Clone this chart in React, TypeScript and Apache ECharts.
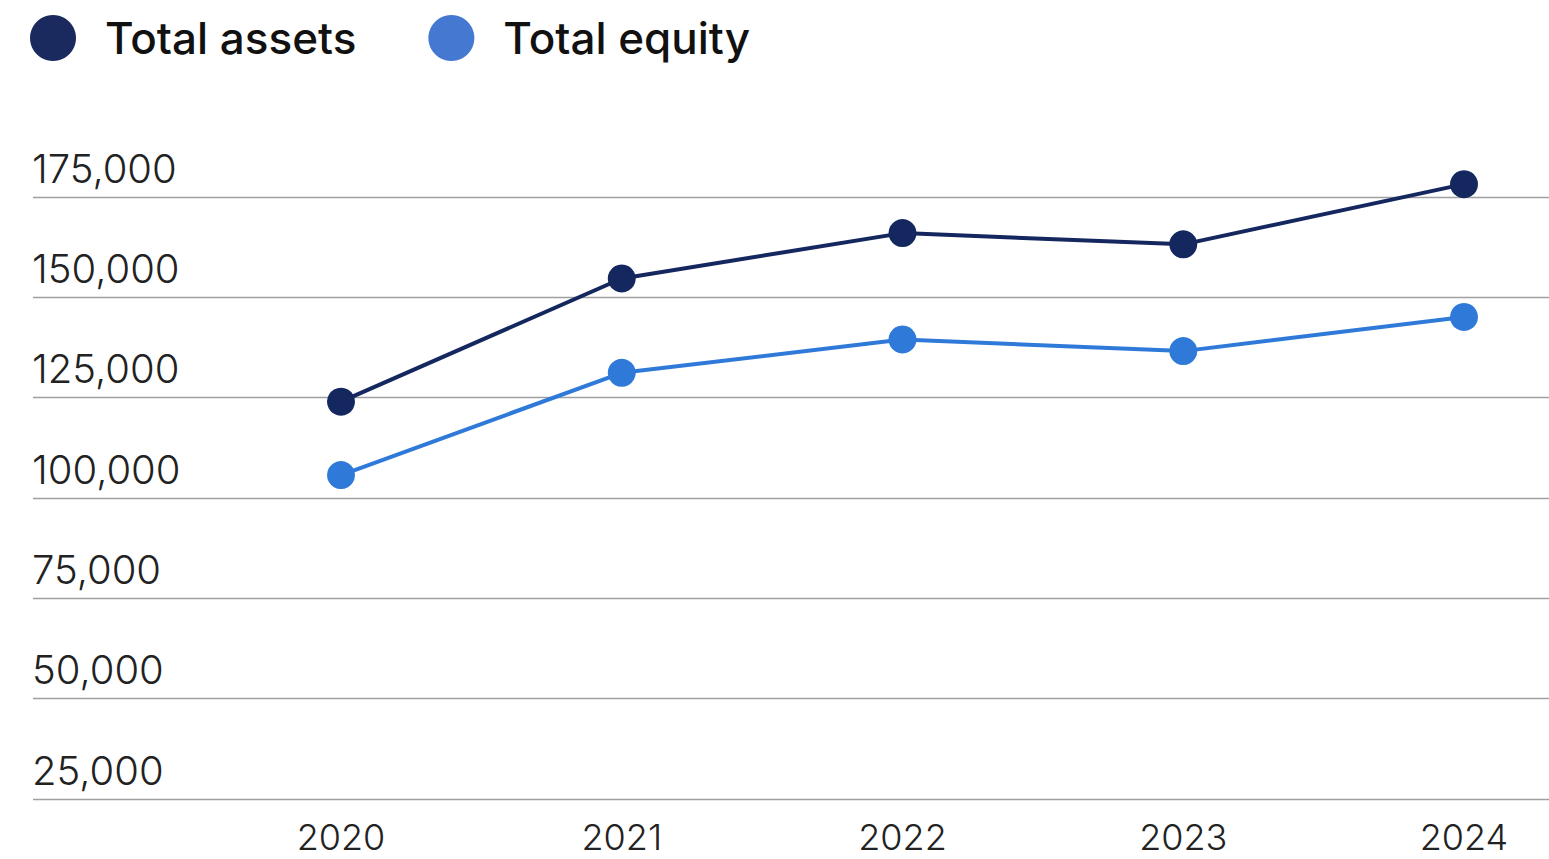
import React, { useEffect, useRef } from "react";
import * as echarts from "echarts";

const years = ["2020", "2021", "2022", "2023", "2024"];
const totalAssets = [124000, 154700, 166000, 163200, 178200];
const totalEquity = [105700, 131200, 139500, 136600, 145100];
const yTicks = { min: 25000, max: 175000, step: 25000 };

const ASSETS_LINE = "#14275f";
const ASSETS_LEGEND = "#1a2a5e";
const EQUITY_LINE = "#2f7ad8";
const EQUITY_LEGEND = "#4478d1";
const FONT = "Inter, 'Noto Sans', sans-serif";

export default function App() {
  const ref = useRef<HTMLDivElement>(null);
  useEffect(() => {
    if (!ref.current) return;
    const chart = echarts.init(ref.current, undefined, { renderer: "svg" });
    const top = 197;
    const bottom = 60;
    chart.setOption({
      animation: false,
      legend: {
        left: 30,
        top: 15,
        padding: 0,
        icon: "circle",
        itemWidth: 46,
        itemHeight: 46,
        itemGap: 72,
        selectedMode: false,
        textStyle: {
          fontFamily: FONT,
          fontSize: 44,
          lineHeight: 46,
          fontWeight: 500,
          color: "#111",
          padding: [0, 0, 0, 24],
        },
        data: [
          { name: "Total assets", itemStyle: { color: ASSETS_LEGEND } },
          { name: "Total equity", itemStyle: { color: EQUITY_LEGEND } },
        ],
      },
      grid: [
        { left: 33, right: 0, top, bottom },
        { left: 341, right: 85, top, bottom },
      ],
      xAxis: [
        { type: "value", gridIndex: 0, show: false, min: 0, max: 1 },
        {
          type: "category",
          gridIndex: 1,
          data: years,
          boundaryGap: false,
          axisLine: { show: false },
          axisTick: { show: false },
          axisLabel: {
            fontFamily: FONT,
            fontSize: 36,
            lineHeight: 34,
            fontWeight: 300,
            color: "#222",
            margin: 21,
          },
        },
      ],
      yAxis: [
        {
          type: "value",
          gridIndex: 0,
          min: yTicks.min,
          max: yTicks.max,
          interval: yTicks.step,
          axisLine: { show: false },
          axisTick: { show: false },
          splitLine: { show: true, lineStyle: { color: "#a0a0a0", width: 1.3 } },
          axisLabel: {
            inside: true,
            margin: -1,
            verticalAlign: "bottom",
            padding: [0, 0, 9, 0],
            fontFamily: FONT,
            fontSize: 40,
            lineHeight: 40,
            fontWeight: 300,
            color: "#222",
            formatter: (v: number) => v.toLocaleString("en-US"),
          },
        },
        {
          type: "value",
          gridIndex: 1,
          min: yTicks.min,
          max: yTicks.max,
          interval: yTicks.step,
          show: false,
          splitLine: { show: false },
        },
      ],
      series: [
        {
          name: "Total assets",
          type: "line",
          xAxisIndex: 1,
          yAxisIndex: 1,
          data: totalAssets,
          clip: false,
          symbol: "circle",
          symbolSize: 28,
          color: ASSETS_LINE,
          lineStyle: { width: 4, color: ASSETS_LINE },
          itemStyle: { color: ASSETS_LINE },
        },
        {
          name: "Total equity",
          type: "line",
          xAxisIndex: 1,
          yAxisIndex: 1,
          data: totalEquity,
          clip: false,
          symbol: "circle",
          symbolSize: 28,
          color: EQUITY_LINE,
          lineStyle: { width: 4, color: EQUITY_LINE },
          itemStyle: { color: EQUITY_LINE },
        },
      ],
    });
    return () => chart.dispose();
  }, []);
  return (
    <div
      ref={ref}
      style={{ position: "absolute", left: 0, top: 0, width: 1549, height: 859, background: "#fff" }}
    />
  );
}
